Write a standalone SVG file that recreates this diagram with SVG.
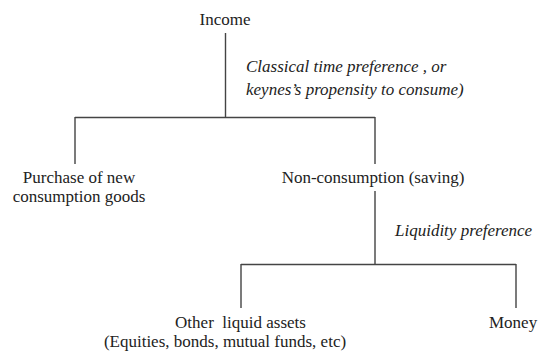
<svg xmlns="http://www.w3.org/2000/svg" width="538" height="353" viewBox="0 0 538 353">
<style>
.t{font-family:"Liberation Serif","Times New Roman",serif;font-size:17px;fill:#222}
.i{font-style:italic}
.m{text-anchor:middle}
.c{fill:none;stroke:#444;stroke-width:1.4}
</style>
<rect width="538" height="353" fill="#fff"/>
<g id="connectors">
<path class="c" d="M225.5 33V117.5M75 117.5H375M75 117M75 117V164M375 117V164"/>
<path class="c" d="M375 191V264.5M241 264.5H516M241 264V308M516 264V308"/>
</g>
<g id="income"><text class="t m" x="225" y="25">Income</text></g>
<g id="label-consume"><text class="t i" x="246" y="72">Classical time preference , or</text><text class="t i" x="246" y="95">keynes’s propensity to consume)</text></g>
<g id="purchase"><text class="t m" x="79" y="183">Purchase of new</text><text class="t m" x="79" y="201.5">consumption goods</text></g>
<g id="nonconsumption"><text class="t m" x="373" y="183">Non-consumption (saving)</text></g>
<g id="label-liquidity"><text class="t i" x="395" y="236">Liquidity preference</text></g>
<g id="other"><text class="t m" x="240.5" y="328" xml:space="preserve">Other  liquid assets</text><text class="t m" x="225" y="346.5">(Equities, bonds, mutual funds, etc)</text></g>
<g id="money"><text class="t" x="489" y="328">Money</text></g>
</svg>
